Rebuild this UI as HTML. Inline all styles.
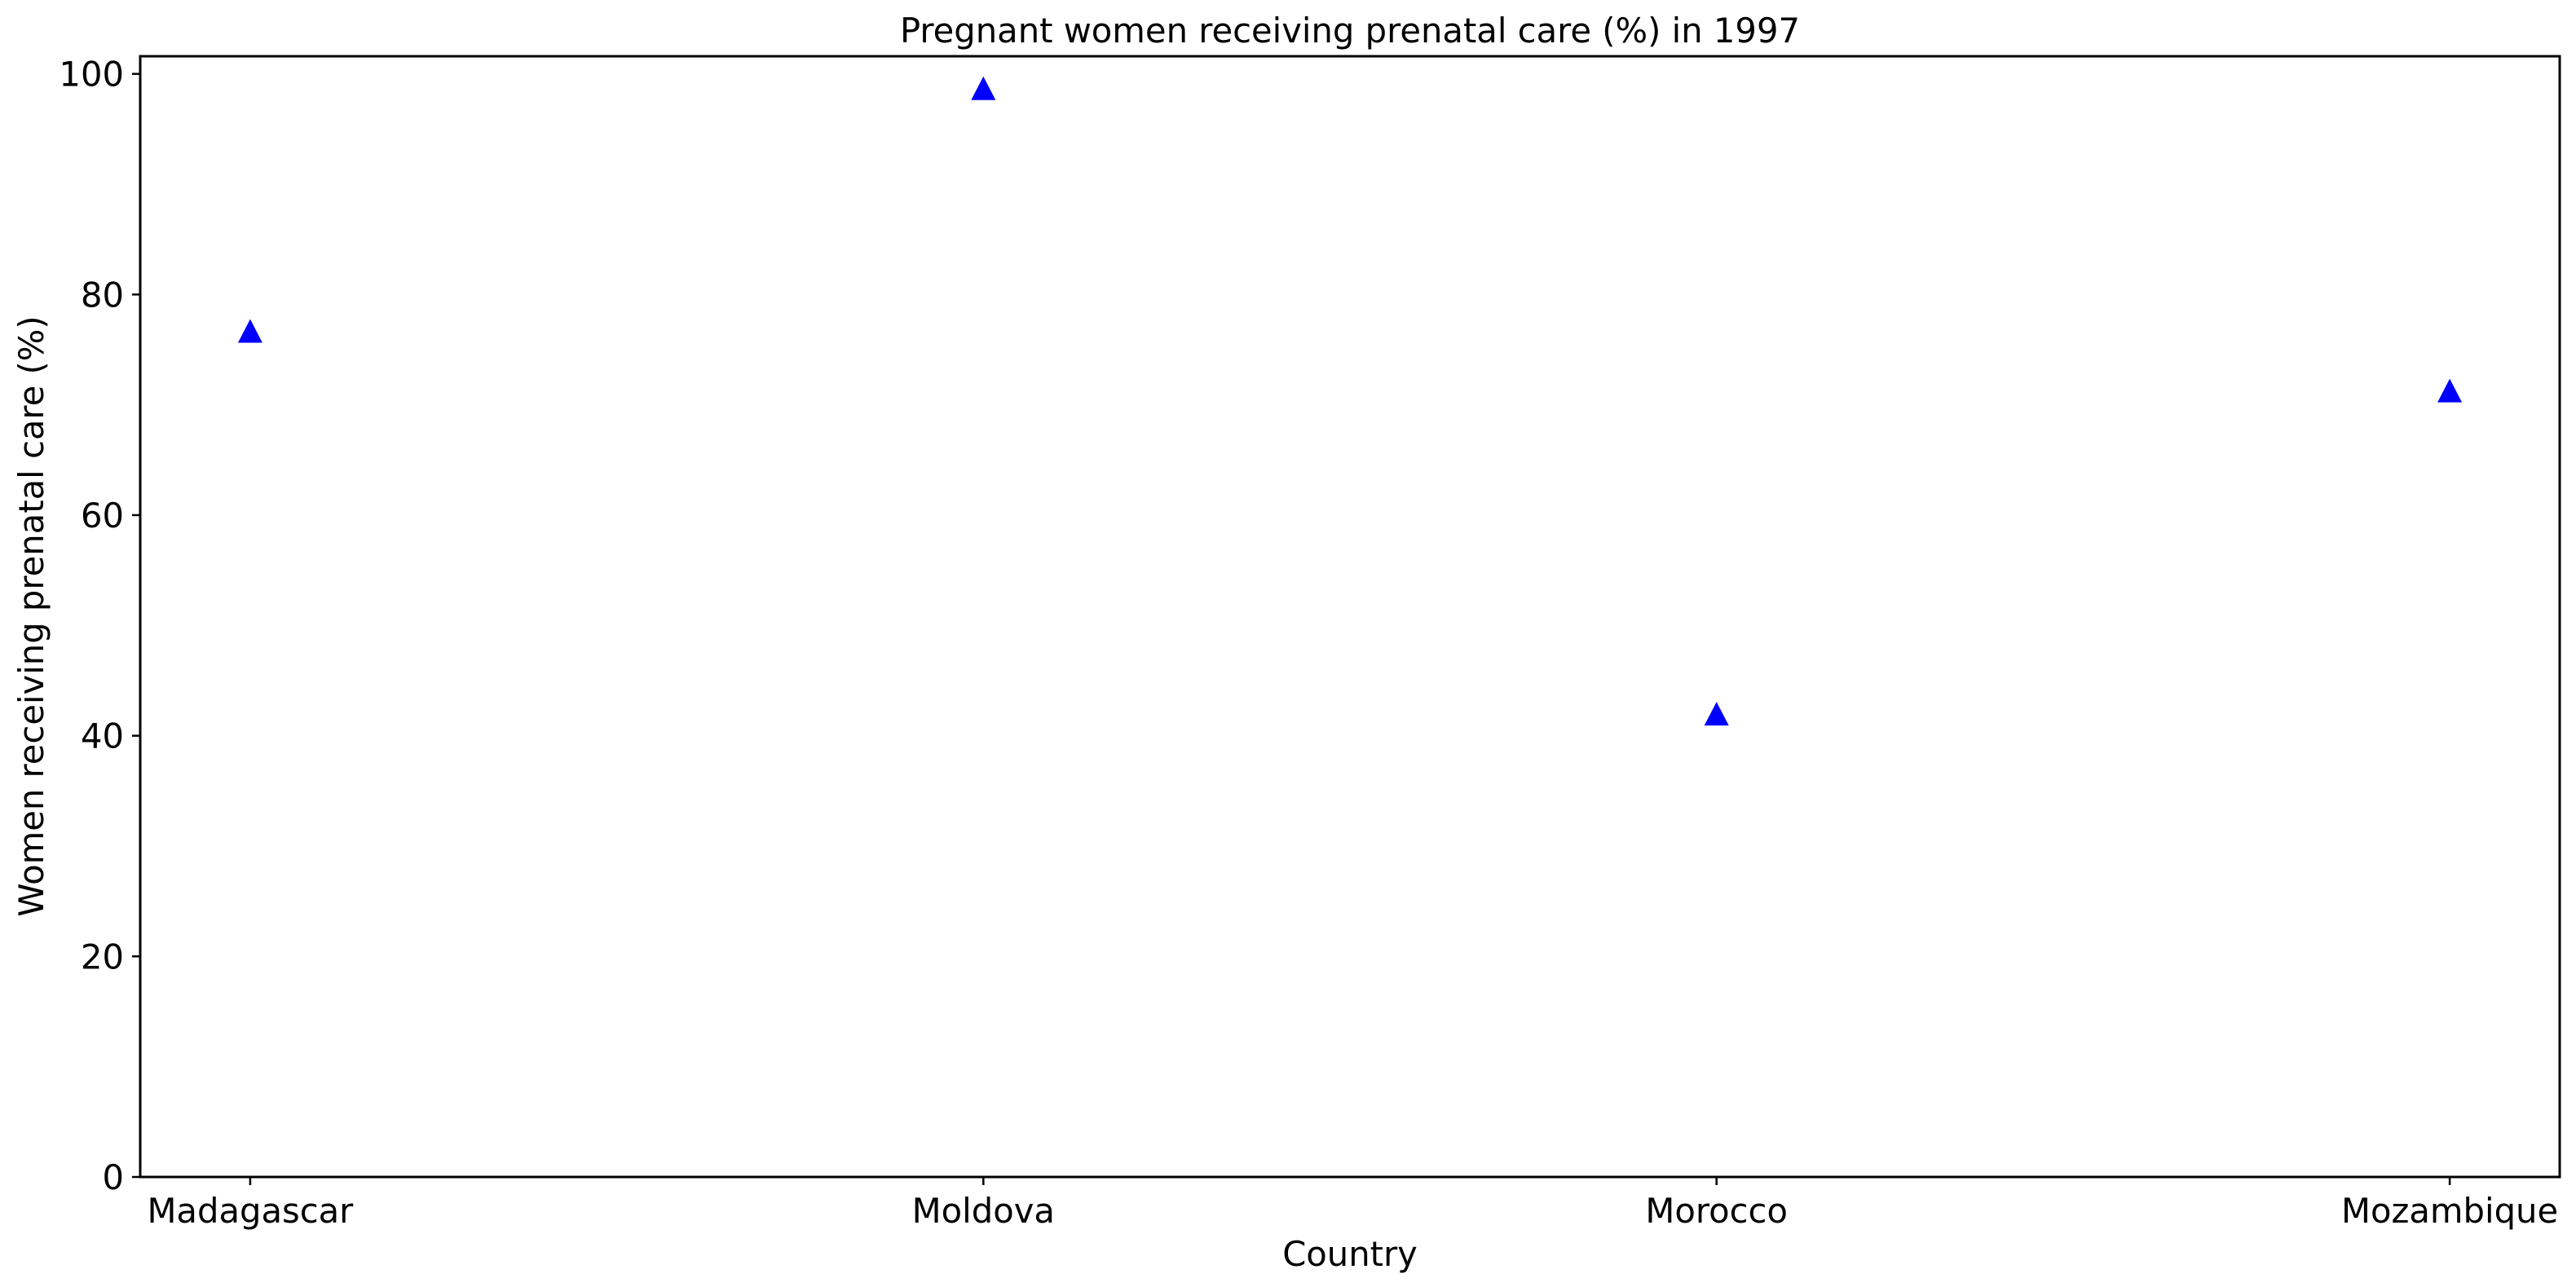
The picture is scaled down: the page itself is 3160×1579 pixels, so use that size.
<!DOCTYPE html>
<html><head><meta charset="utf-8"><style>
html,body{margin:0;padding:0;background:#fff;}
svg{display:block;font-family:"DejaVu Sans","Liberation Sans",sans-serif;}
</style></head><body>
<svg id="chart" width="3160" height="1579" viewBox="0 0 3160 1579" xmlns="http://www.w3.org/2000/svg">
<rect x="0" y="0" width="3160" height="1579" fill="#fff"/>
<text x="1656" y="52" font-size="41.7" text-anchor="middle">Pregnant women receiving prenatal care (%) in 1997</text>
<g id="plot"></g>
<rect x="172" y="69" width="2968" height="1375" fill="none" stroke="#000" stroke-width="3"/>
<text x="1656" y="1553" font-size="41.7" text-anchor="middle">Country</text>
<text transform="translate(53,756) rotate(-90)" font-size="41.7" text-anchor="middle">Women receiving prenatal care (%)</text>
</svg>
<script>
const categories = ["Madagascar", "Moldova", "Morocco", "Mozambique"];
const values = [76.7, 98.7, 42.0, 71.3];
const yTicks = [0, 20, 40, 60, 80, 100];

const L = 172, R = 3140, T = 69, B = 1444;
const xMin = -0.15, xMax = 3.15, yMin = 0, yMax = 101.6;
function xScale(i){ return L + (i - xMin) / (xMax - xMin) * (R - L); }
function yScale(v){ return B - (v - yMin) / (yMax - yMin) * (B - T); }

const NS = "http://www.w3.org/2000/svg";
const g = document.getElementById("plot");
function mk(tag, attrs){ const e = document.createElementNS(NS, tag); for (const k in attrs) e.setAttribute(k, attrs[k]); g.appendChild(e); return e; }

yTicks.forEach(function(t){
  const y = yScale(t);
  const tk = mk("line", {x1: L - 10, x2: L, y1: y, y2: y, stroke: "#000", "stroke-width": 2.5});
  
  
  const lb = mk("text", {x: L - 20, y: y + 15, "font-size": 41.7, "text-anchor": "end"});
  lb.textContent = t;
  
  
});

categories.forEach(function(c, i){
  const x = xScale(i);
  const tk = mk("line", {x1: x, x2: x, y1: B, y2: B + 10, stroke: "#000", "stroke-width": 2.5});
  
  
  const lb = mk("text", {x: x, y: B + 56, "font-size": 41.7, "text-anchor": "middle"});
  lb.textContent = c;
  
  
});

values.forEach(function(v, i){
  const x = xScale(i), y = yScale(v), h = 14.5, w = 15;
  const p = mk("polygon", {points: x + "," + (y - h) + " " + (x - w) + "," + (y + h) + " " + (x + w) + "," + (y + h), fill: "#0000ff"});
  
  
});
</script>
</body></html>
